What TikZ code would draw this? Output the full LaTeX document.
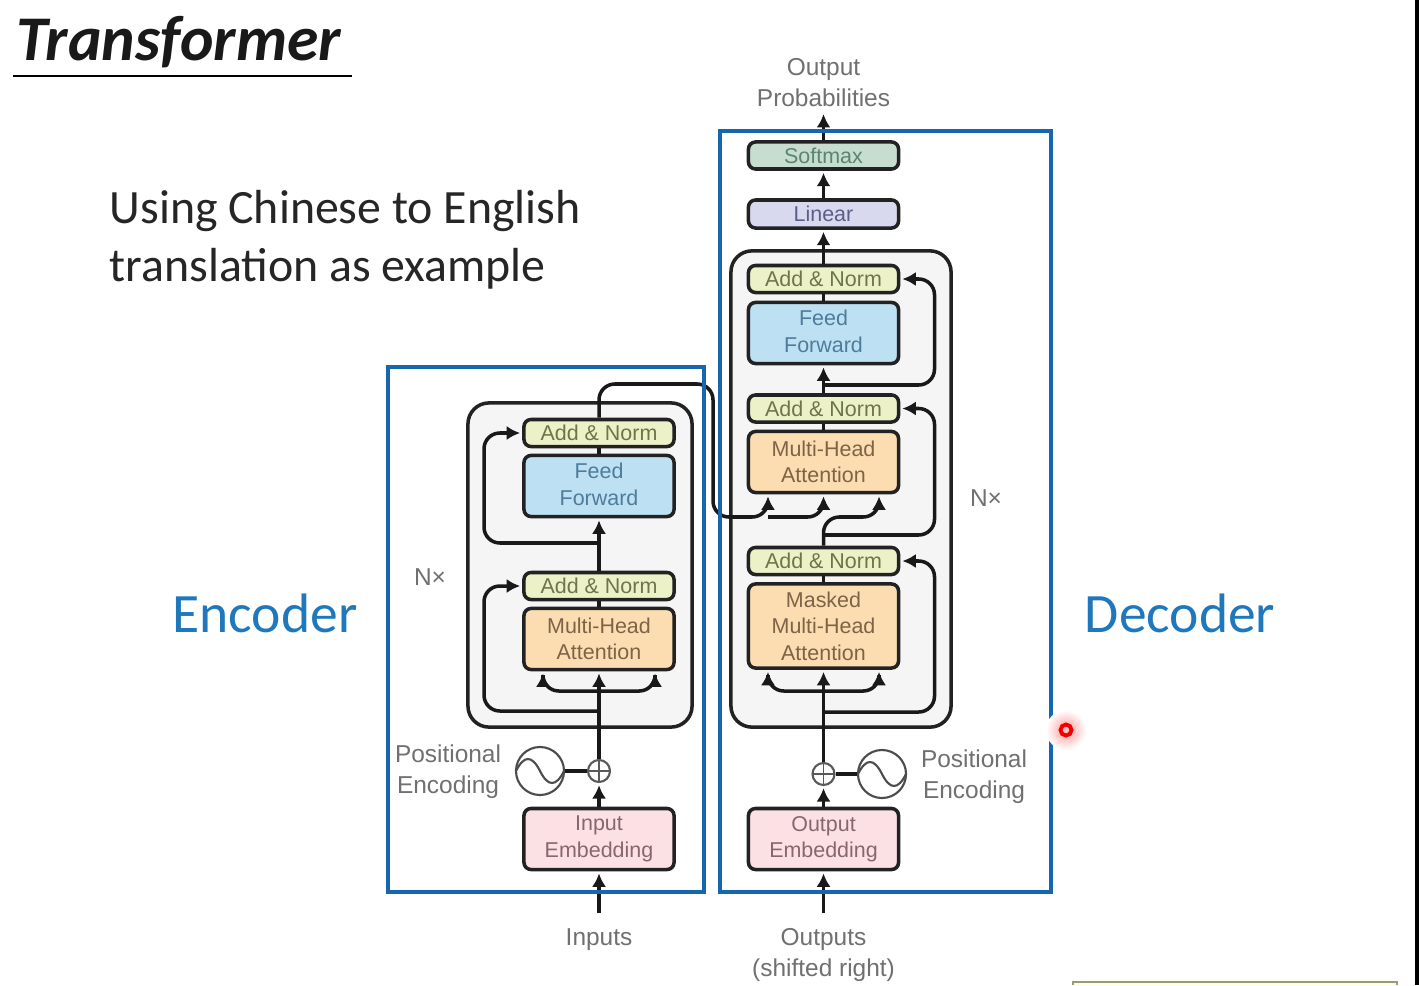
\documentclass[tikz,border=0pt]{standalone}
\usepackage{fontspec}
\setmainfont{Liberation Sans}
\newfontfamily\slidefont{Carlito}
\usepackage{xcolor}
\usepackage{tikz}
\usetikzlibrary{calc,positioning,arrows.meta}

\definecolor{framecol}{HTML}{1766B0}
\definecolor{headcol}{HTML}{1F78BC}
\definecolor{labelcol}{HTML}{707070}
\definecolor{edgecol}{HTML}{222222}

\tikzset{
    block/.style={draw=edgecol, line width=1pt, rounded corners=2pt, minimum width=1.5cm, inner sep=0pt, align=center, font=\fontsize{6.1}{7.5}\selectfont},
    addnorm/.style={block, fill={rgb,255:red,237;green,241;blue,200}, text={rgb,255:red,108;green,118;blue,72}, minimum height=0.27cm},
    feedfwd/.style={block, fill={rgb,255:red,189;green,224;blue,242}, text={rgb,255:red,78;green,124;blue,154}, minimum height=0.61cm},
    attn/.style={block, fill={rgb,255:red,252;green,221;blue,178}, text={rgb,255:red,125;green,100;blue,70}, minimum height=0.61cm},
    embed/.style={block, fill={rgb,255:red,251;green,224;blue,228}, text={rgb,255:red,135;green,102;blue,112}, minimum height=0.61cm},
    softbox/.style={block, fill={rgb,255:red,198;green,221;blue,207}, text={rgb,255:red,92;green,133;blue,112}, minimum height=0.27cm},
    linbox/.style={block, fill={rgb,255:red,216;green,217;blue,238}, text={rgb,255:red,90;green,95;blue,138}, minimum height=0.28cm},
    stack/.style={draw=edgecol, line width=1pt, fill=black!4, rounded corners=6pt},
    frame/.style={draw=framecol, line width=1.2pt, inner sep=0pt},
    plain/.style={text=labelcol, align=center, font=\fontsize{6.95}{8.8}\selectfont},
    flow/.style={-{Latex[length=3.8pt,width=4pt]}, draw=black!90, line width=1pt, rounded corners=4.5pt, shorten >=0.6pt},
    wire/.style={draw=black!90, line width=1pt},
    addcirc/.style={circle, draw=black!65, line width=0.6pt, minimum size=0.22cm, inner sep=0pt,
        path picture={\draw[black!65, line width=0.5pt] (path picture bounding box.north) -- (path picture bounding box.south)
            (path picture bounding box.west) -- (path picture bounding box.east);}},
    sinecirc/.style={circle, draw=black!70, line width=0.6pt, minimum size=0.48cm, inner sep=0pt,
        path picture={\draw[black!70, line width=0.6pt] (path picture bounding box.west) .. controls +(8,-16) and +(-8,-16) .. (path picture bounding box.center)
            .. controls +(8,16) and +(-8,16) .. (path picture bounding box.east);}}
}

\begin{document}
\begin{tikzpicture}[x=0.01cm, y=-0.01cm]
    \useasboundingbox (0,0) rectangle (1419,985);
    \fill[white] (0,0) rectangle (1419,985);

    % Slide title and texts
    \node[anchor=base west, inner sep=0pt, font=\slidefont\bfseries\itshape\fontsize{18.1}{20}\selectfont, text=black!90] (title) at (16,61) {Transformer};
    \draw[black, line width=0.4pt] (13,76) -- (352,76);
    \node[anchor=west, inner sep=0pt, align=left, text=black!85, font=\slidefont\fontsize{13.6}{16.5}\selectfont] (intro) at (109,240) {Using Chinese to English\\translation as example};
    \node[text=headcol, font=\slidefont\fontsize{15.8}{18}\selectfont] (enclabel) at (265,613) {Encoder};
    \node[text=headcol, font=\slidefont\fontsize{15.8}{18}\selectfont] (declabel) at (1180,613) {Decoder};

    % Grey stacks
    \node[stack, minimum width=2.24cm, minimum height=3.24cm] (encstack) at (580,565) {};
    \node[stack, minimum width=2.2cm, minimum height=4.76cm] (decstack) at (841,489) {};

    % Encoder blocks
    \node[addnorm] (AE2) at (599,433) {Add \& Norm};
    \node[feedfwd] (FE) at (599,486) {\raisebox{1pt}{Feed}\\\raisebox{1pt}{Forward}};
    \node[addnorm] (AE1) at (599,586) {Add \& Norm};
    \node[attn] (ME) at (599,639) {Multi-Head\\Attention};
    \node[embed] (IE) at (599,839) {Input\\Embedding};
    \node[addcirc] (PE) at (599,771) {};
    \node[sinecirc] (SE) at (540,771) {};

    % Decoder blocks
    \node[softbox] (SM) at (823.5,155.5) {Softmax};
    \node[linbox] (LN) at (823.5,214) {Linear};
    \node[addnorm] (AD3) at (823.5,279) {Add \& Norm};
    \node[feedfwd] (FD) at (823.5,333) {\raisebox{1pt}{Feed}\\\raisebox{1pt}{Forward}};
    \node[addnorm] (AD2) at (823.5,408.5) {Add \& Norm};
    \node[attn] (MD) at (823.5,462) {Multi-Head\\Attention};
    \node[addnorm] (AD1) at (823.5,561) {Add \& Norm};
    \node[attn, minimum height=0.84cm] (MM) at (823.5,626) {Masked\\Multi-Head\\Attention};
    \node[embed] (OE) at (823.5,839) {Output\\Embedding};
    \node[addcirc] (PD) at (823.5,774) {};
    \node[sinecirc] (SD) at (882,774) {};

    % Outer labels
    \node[plain] (outprob) at (823.5,83) {Output\\Probabilities};
    \node[plain] (inlabel) at (599,940) {Inputs};
    \node[plain] (outlabel) at (823.5,955) {Outputs\\(shifted right)};
    \node[plain] (posenc) at (448,772) {Positional\\Encoding};
    \node[plain] (posdec) at (974,777) {Positional\\Encoding};
    \node[plain] (nenc) at (430,577) {N×};
    \node[plain] (ndec) at (986,498) {N×};

    % Free ends and taps
    \coordinate (instub) at (599,913);
    \coordinate (outstub) at (823.5,913);
    \coordinate (outtip) at (823.5,112);
    \coordinate (tapE1) at (599,691);
    \coordinate (tapE2) at (599,711);
    \coordinate (tapE3) at (599,543);
    \coordinate (tapD1) at (823.5,691);
    \coordinate (tapD2) at (823.5,712);
    \coordinate (tapD3) at (823.5,535);
    \coordinate (tapD4) at (823.5,385);
    \coordinate (crossmid) at (768,517);

    % Encoder connectors
    \draw[flow] (instub) -- (IE.south);
    \draw[flow] (IE.north) -- (PE.south);
    \draw[flow] (PE.north) -- (ME.south);
    \draw[wire] (SE) -- (PE);
    \draw[flow] (tapE1) -| ([xshift=-0.56cm]ME.south);
    \draw[flow] (tapE1) -| ([xshift=0.56cm]ME.south);
    \draw[flow] (tapE2) -- ++(-115,0) |- (AE1.west);
    \draw[wire] (ME.north) -- (AE1.south);
    \draw[flow] (AE1.north) -- (FE.south);
    \draw[flow] (tapE3) -- ++(-115,0) |- (AE2.west);
    \draw[wire] (FE.north) -- (AE2.south);

    % Encoder to decoder
    \draw[flow] (AE2.north) -- (599,384) -- (713,384) -- (713,517) -| ([xshift=-0.555cm]MD.south);
    \draw[flow] (crossmid) -| (MD.south);
    \draw[flow] (AD1.north) -- (823.5,517) -| ([xshift=0.555cm]MD.south);

    % Decoder connectors
    \draw[flow] (outstub) -- (OE.south);
    \draw[flow] (OE.north) -- (PD.south);
    \draw[flow] (PD.north) -- (MM.south);
    \draw[wire] (SD) -- (PD);
    \draw[flow] (tapD1) -| ([xshift=-0.555cm]MM.south);
    \draw[flow] (tapD1) -| ([xshift=0.555cm]MM.south);
    \draw[flow] (tapD2) -- ++(111,0) |- (AD1.east);
    \draw[wire] (MM.north) -- (AD1.south);
    \draw[flow] (tapD3) -- ++(111,0) |- (AD2.east);
    \draw[wire] (MD.north) -- (AD2.south);
    \draw[flow] (AD2.north) -- (FD.south);
    \draw[flow] (tapD4) -- ++(111,0) |- (AD3.east);
    \draw[wire] (FD.north) -- (AD3.south);
    \draw[flow] (AD3.north) -- (LN.south);
    \draw[flow] (LN.north) -- (SM.south);
    \draw[flow] (SM.north) -- (outtip);

    % Blue frames go over the figure
    \node[frame, minimum width=3.16cm, minimum height=5.25cm] (encframe) at (546,629.5) {};
    \node[frame, minimum width=3.31cm, minimum height=7.61cm] (decframe) at (885.5,511.5) {};

    % Pointer dot and window edges
    \shade[inner color=red!40, outer color=white] (1066,730) circle (0.2cm);
    \draw[red!95!black, line width=1.1pt, fill=red!25] (1066,730) circle (0.055cm);
    \fill[black] (1415,0) rectangle (1419,985);
    \draw[fill=yellow!8!white, draw=black!35!yellow!45!gray, line width=0.5pt] (1073,985) -- (1073,982) -- (1397,982) -- (1397,985);
\end{tikzpicture}
\end{document}
